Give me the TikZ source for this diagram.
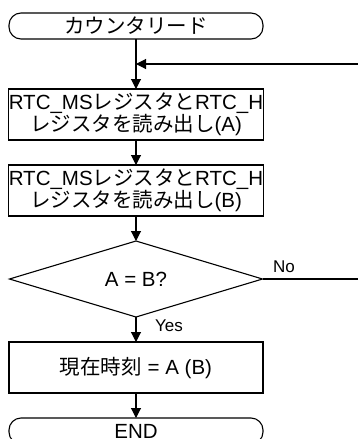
\documentclass[tikz,border=0pt]{standalone}
\usepackage{fontspec}
\setmainfont{Liberation Sans}
\newfontfamily\cjk{Noto Sans CJK JP}
\usetikzlibrary{arrows.meta,shapes.geometric}
\tikzset{
  base/.style={draw=black, line width=1.1pt, inner sep=0pt, outer sep=0pt, align=center,
    font=\fontsize{20.5}{22}\selectfont},
  term/.style={base, rounded corners=12pt, minimum width=254pt, minimum height=26pt},
  procbox/.style={base, rectangle, minimum width=254pt, minimum height=51pt},
  decision/.style={base, diamond, aspect=3.3, minimum width=253pt, minimum height=76pt},
  flow/.style={line width=1.1pt, -{Triangle[width=10pt,length=10pt]}},
  plain/.style={line width=1.1pt},
  lbl/.style={inner sep=0pt, font=\fontsize{17}{18}\selectfont}
}
\begin{document}
\begin{tikzpicture}[x=1pt,y=-1pt]
\useasboundingbox (0,0) rectangle (358,439);
\clip (0,0) rectangle (358,439);
\node[term] (start) at (136,26) {\cjk カウンタリード};
\node[procbox] (b1) at (136,114.5) {RTC\_MS{\cjk レジスタと}RTC\_H\\{\cjk レジスタを読み出し}(A)};
\node[procbox] (b2) at (136,190.5) {RTC\_MS{\cjk レジスタと}RTC\_H\\{\cjk レジスタを読み出し}(B)};
\node[decision] (d) at (136,279) {A = B?};
\node[procbox] (b3) at (136,367.5) {{\cjk 現在時刻} = A (B)};
\node[term] (end) at (136,431) {END};
\coordinate (r1) at (358,64);
\coordinate (r2) at (358,279);
\draw[flow] (start.south) -- (b1.north);
\draw[flow] (r1) -- (r1 -| start.south);
\draw[flow] (b1.south) -- (b2.north);
\draw[flow] (b2.south) -- (d.north);
\draw[plain] (d.east) -- (r2);
\node[lbl] (no) at (284,267) {No};
\draw[flow] (d.south) -- (b3.north);
\node[lbl] (yes) at (169,326) {Yes};
\draw[flow] (b3.south) -- (end.north);
\end{tikzpicture}
\end{document}
